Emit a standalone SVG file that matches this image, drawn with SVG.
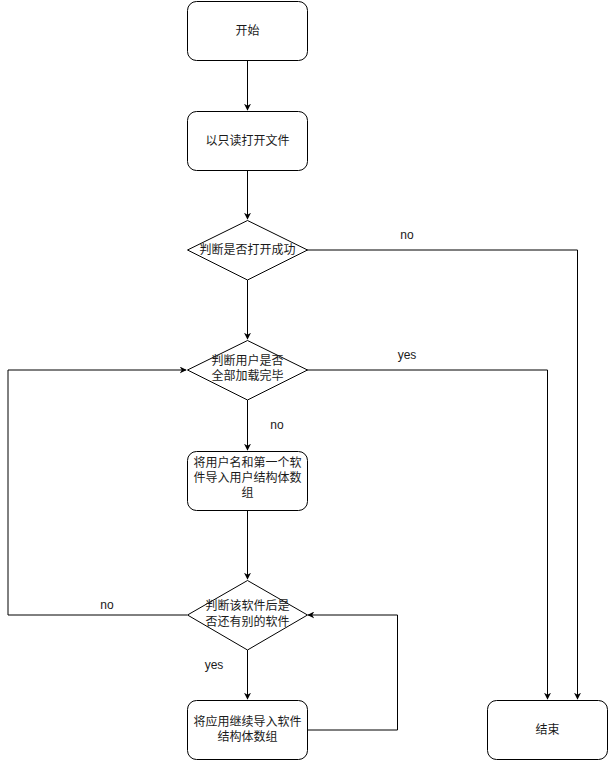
<svg xmlns="http://www.w3.org/2000/svg" width="608" height="761" viewBox="0 0 608 761">
<style>
.n{fill:#fff;stroke:#000;stroke-width:1}
.t{font-family:"Liberation Sans","Noto Sans CJK SC",sans-serif;font-size:12px;fill:#1a1a1a;text-anchor:middle}
.l{font-family:"Liberation Sans",sans-serif;font-size:12px;fill:#1a1a1a;text-anchor:middle}
.c{fill:none;stroke:#000;stroke-width:1;marker-end:url(#a)}
</style>
<defs>
<marker id="a" viewBox="0 0 10 10" refX="9" refY="5" markerWidth="7" markerHeight="7" markerUnits="userSpaceOnUse" orient="auto">
<path d="M0,0 L10,5 L0,10 L3,5 Z" fill="#000"/>
</marker>
</defs>
<rect width="608" height="761" fill="#fff"/>
<g id="connectors">
<path class="c" d="M247.5,61 V110"/>
<path class="c" d="M247.5,171 V219"/>
<path class="c" d="M247.5,280 V339"/>
<path class="c" d="M307,250 H577.5 V699"/>
<path class="c" d="M307,370 H547.5 V699"/>
<path class="c" d="M247.5,400 V450"/>
<path class="c" d="M247.5,511 V579"/>
<path class="c" d="M187,615 H8 V370 H186"/>
<path class="c" d="M247.5,650 V699"/>
<path class="c" d="M307,730 H397.5 V615 H308"/>
<text class="l" x="407" y="239">no</text>
<text class="l" x="407" y="359">yes</text>
<text class="l" x="277" y="429">no</text>
<text class="l" x="107" y="609">no</text>
<text class="l" x="214" y="669">yes</text>
</g>
<g id="start">
<rect class="n" x="187.5" y="1.5" width="120" height="59" rx="9"/>
<text class="t" x="247.5" y="35">开始</text>
</g>
<g id="open">
<rect class="n" x="187.5" y="111.5" width="120" height="59" rx="9"/>
<text class="t" x="247.5" y="145">以只读打开文件</text>
</g>
<g id="check-open">
<path class="n" d="M247.5,220.5 L307.5,250 L247.5,280 L187.5,250 Z"/>
<text class="t" x="247.5" y="254">判断是否打开成功</text>
</g>
<g id="check-users">
<path class="n" d="M247.5,340.5 L307.5,370 L247.5,400 L187.5,370 Z"/>
<text class="t" x="247.5" y="365">判断用户是否</text>
<text class="t" x="247.5" y="380">全部加载完毕</text>
</g>
<g id="import-user">
<rect class="n" x="187.5" y="451.5" width="120" height="59" rx="9"/>
<text class="t" x="247.5" y="467">将用户名和第一个软</text>
<text class="t" x="247.5" y="482">件导入用户结构体数</text>
<text class="t" x="247.5" y="497">组</text>
</g>
<g id="check-soft">
<path class="n" d="M247.5,580.5 L307.5,615 L247.5,650 L187.5,615 Z"/>
<text class="t" x="247.5" y="610">判断该软件后是</text>
<text class="t" x="247.5" y="626">否还有别的软件</text>
</g>
<g id="import-soft">
<rect class="n" x="187.5" y="700.5" width="120" height="59" rx="9"/>
<text class="t" x="247.5" y="726">将应用继续导入软件</text>
<text class="t" x="247.5" y="741">结构体数组</text>
</g>
<g id="end">
<rect class="n" x="487.5" y="700.5" width="120" height="59" rx="9"/>
<text class="t" x="547.5" y="734">结束</text>
</g>
</svg>
